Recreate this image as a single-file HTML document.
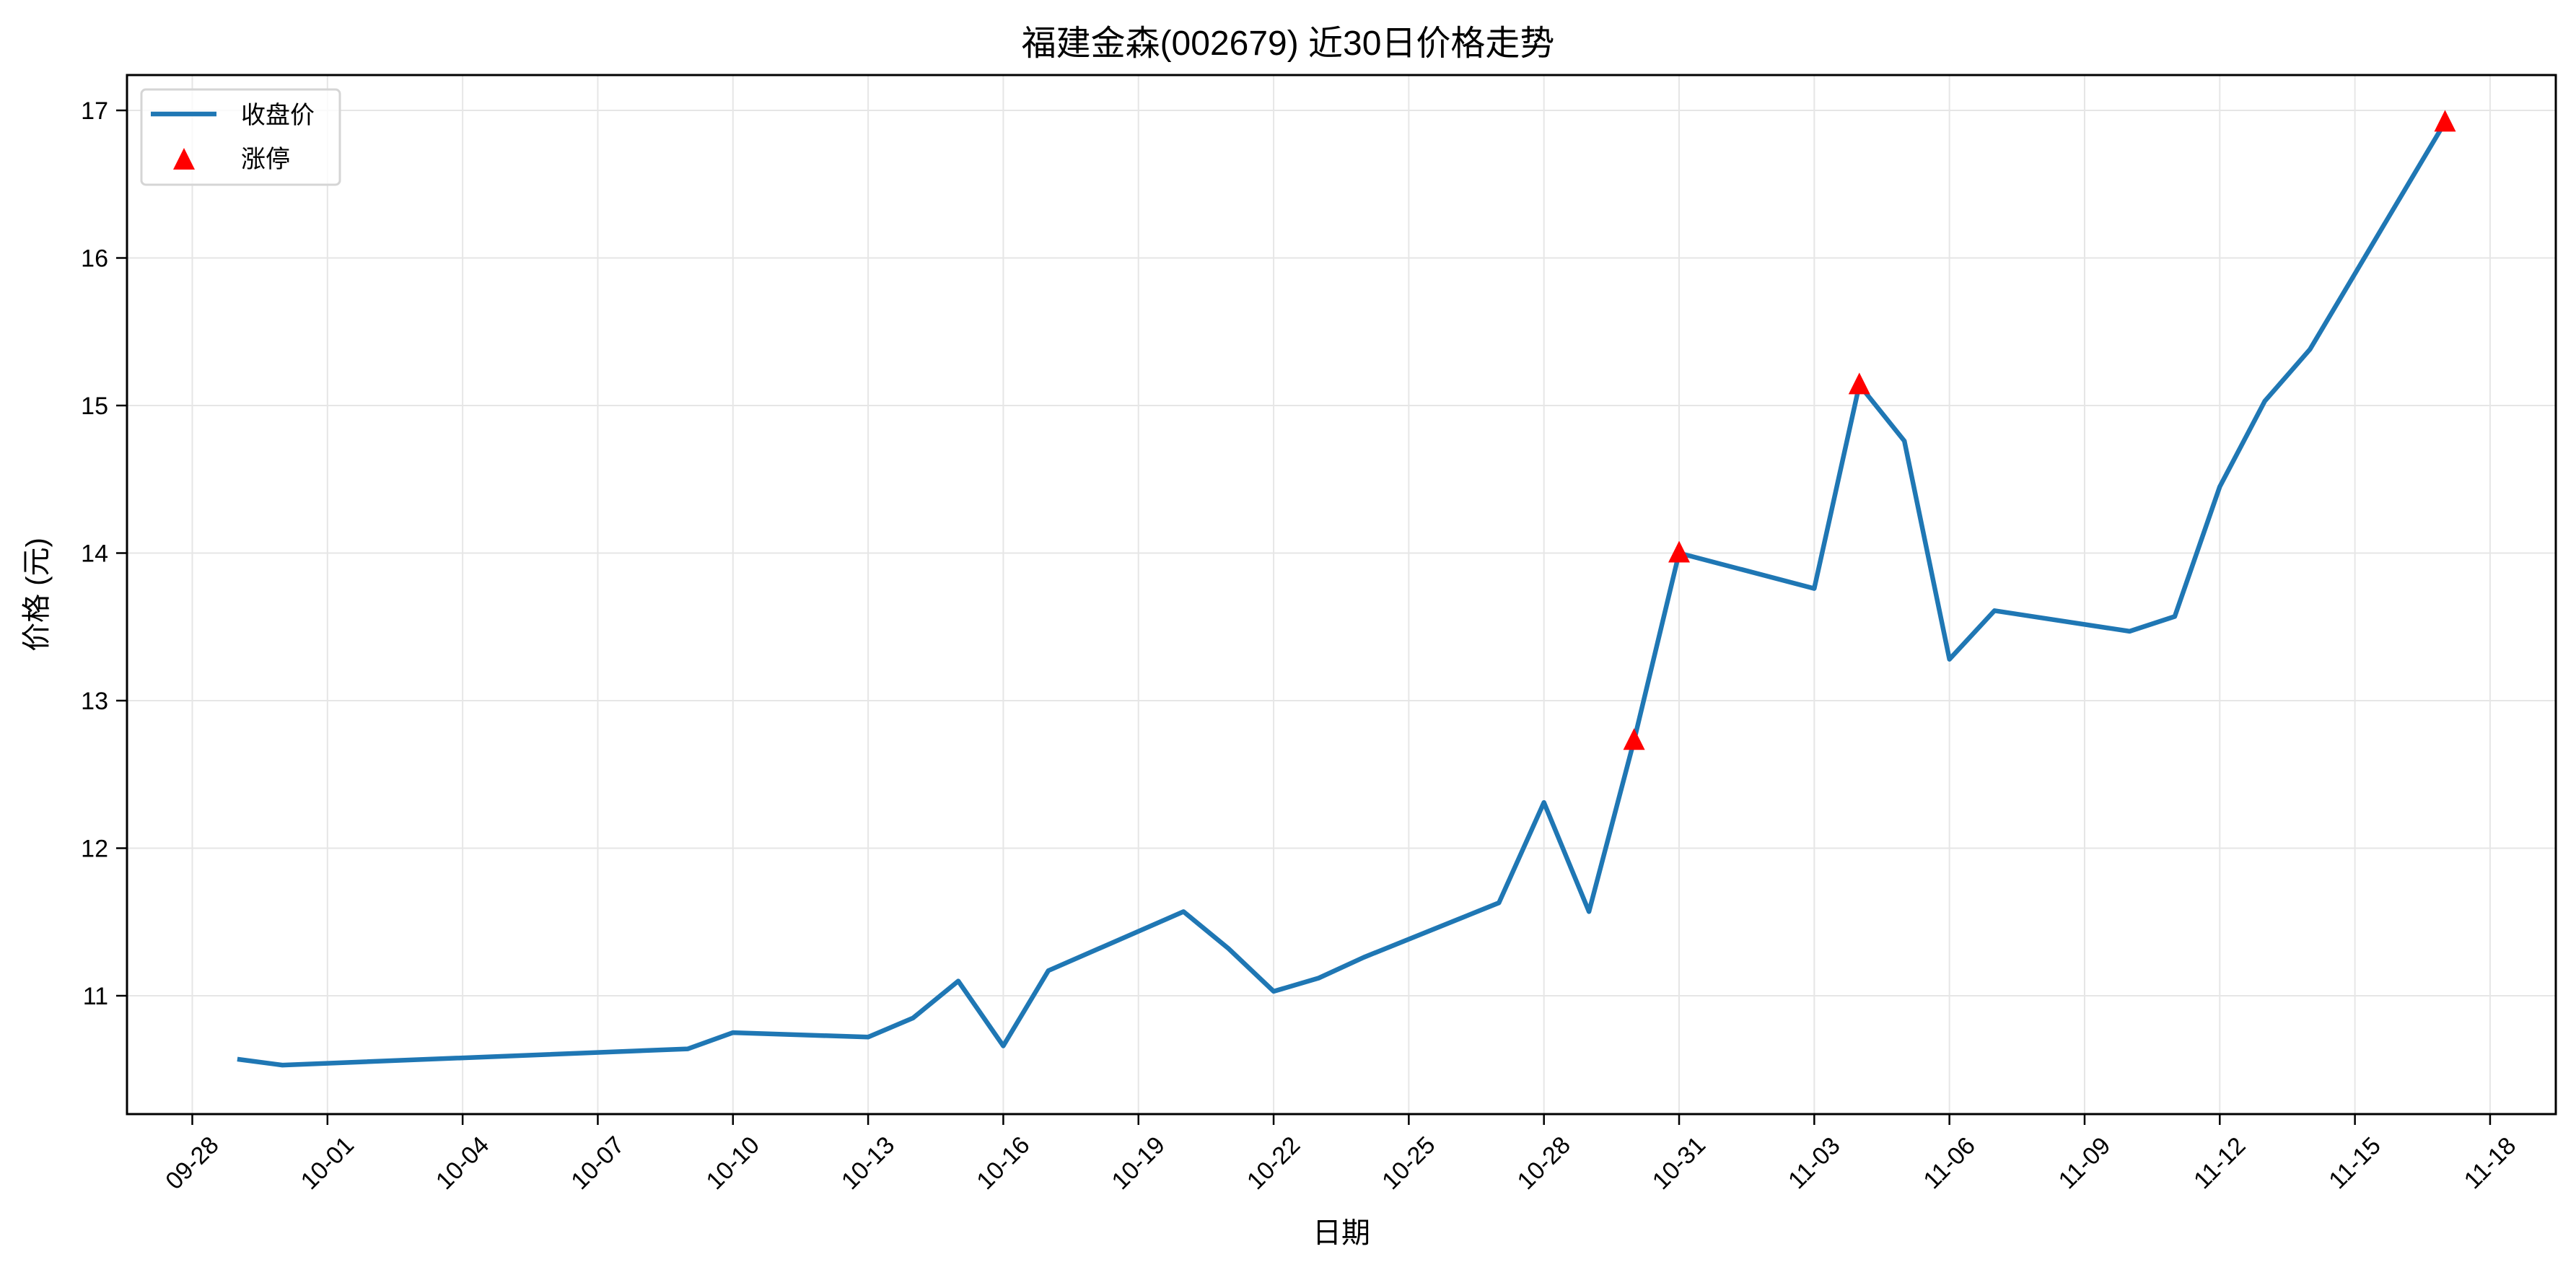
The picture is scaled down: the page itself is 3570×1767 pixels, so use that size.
<!DOCTYPE html>
<html><head><meta charset="utf-8">
<style>html,body{margin:0;padding:0;background:#fff}svg{display:block}</style>
</head><body>
<svg id="s" width="3570" height="1767" xmlns="http://www.w3.org/2000/svg" font-family="'Liberation Sans','Noto Sans CJK SC',sans-serif"></svg>
<script>
const L=176,R=3542,T=104,B=1544;
const X=d=>266.5+62.44*d, Y=v=>153+(17-v)*204.5;
let h='<rect width="3570" height="1767" fill="#fff"/>';
for(let d=0;d<=51;d+=3){h+=`<line x1="${X(d)}" y1="${T}" x2="${X(d)}" y2="${B}" stroke="#e6e6e6" stroke-width="2"/>`;}
for(let v=11;v<=17;v++){h+=`<line x1="${L}" y1="${Y(v)}" x2="${R}" y2="${Y(v)}" stroke="#e6e6e6" stroke-width="2"/>`;}
const data=[[1,10.57],[2,10.53],[11,10.64],[12,10.75],[15,10.72],[16,10.85],[17,11.10],[18,10.66],[19,11.17],[22,11.57],[23,11.32],[24,11.03],[25,11.12],[26,11.26],[29,11.63],[30,12.31],[31,11.57],[32,12.73],[33,14.00],[36,13.76],[37,15.14],[38,14.76],[39,13.28],[40,13.61],[43,13.47],[44,13.57],[45,14.45],[46,15.03],[47,15.38],[50,16.92]];
h+=`<polyline fill="none" stroke="#1f77b4" stroke-width="6.5" stroke-linejoin="round" points="${data.map(p=>X(p[0]).toFixed(1)+','+Y(p[1]).toFixed(1)).join(' ')}"/>`;
const tri=(x,y)=>`<polygon points="${x},${y-17} ${x-15},${y+13} ${x+15},${y+13}" fill="#ff0000"/>`;
[[32,12.73],[33,14.00],[37,15.14],[50,16.92]].forEach(p=>h+=tri(X(p[0]),Y(p[1])));
h+=`<rect x="${L}" y="${T}" width="${R-L}" height="${B-T}" fill="none" stroke="#000" stroke-width="3"/>`;
const mon=d=>{const dt=new Date(2024,8,28+d);return String(dt.getMonth()+1).padStart(2,'0')+'-'+String(dt.getDate()).padStart(2,'0');};
for(let d=0;d<=51;d+=3){const x=X(d);h+=`<line x1="${x}" y1="${B}" x2="${x}" y2="${B+15}" stroke="#000" stroke-width="2.5"/>`;
h+=`<text x="${x}" y="1612" font-size="34" text-anchor="middle" dominant-baseline="central" transform="rotate(-45 ${x} 1612)">${mon(d)}</text>`;}
for(let v=11;v<=17;v++){const y=Y(v);h+=`<line x1="${L-15}" y1="${y}" x2="${L}" y2="${y}" stroke="#000" stroke-width="2.5"/>`;
h+=`<text x="${L-26}" y="${y+12}" font-size="34" text-anchor="end">${v}</text>`;}
h+=`<text x="1785" y="76" font-size="48" text-anchor="middle">福建金森(002679) 近30日价格走势</text>`;
h+=`<text x="1859" y="1722" font-size="40" text-anchor="middle">日期</text>`;
h+=`<text x="0" y="0" font-size="40" text-anchor="middle" transform="translate(64 824) rotate(-90)">价格 (元)</text>`;
h+=`<rect x="196" y="124" width="275" height="132" rx="6" fill="#fff" fill-opacity="0.8" stroke="#d5d5d5" stroke-width="3"/>`;
h+=`<line x1="209" y1="158" x2="300" y2="158" stroke="#1f77b4" stroke-width="6.5"/>`;
h+=tri(255,222);
h+=`<text x="334" y="171" font-size="34">收盘价</text><text x="334" y="232" font-size="34">涨停</text>`;
document.getElementById('s').innerHTML=h;
</script>
</body></html>
